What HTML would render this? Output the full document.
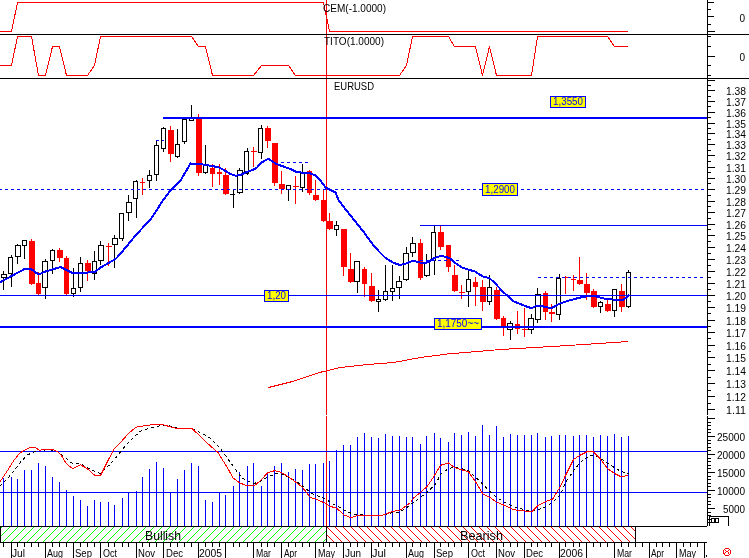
<!DOCTYPE html>
<html><head><meta charset="utf-8"><title>EURUSD</title>
<style>html,body{margin:0;padding:0;background:#fff;width:749px;height:558px;overflow:hidden}
text{font-family:"Liberation Sans",sans-serif} svg{will-change:transform}</style></head>
<body><svg width="749" height="558" viewBox="0 0 749 558" style="display:block;font-family:'Liberation Sans',sans-serif" shape-rendering="crispEdges"><defs><pattern id="hg" patternUnits="userSpaceOnUse" x="0" y="0" width="8" height="8"><rect x="0" y="0" width="1" height="1" fill="#00ff00"/><rect x="1" y="7" width="1" height="1" fill="#00ff00"/><rect x="2" y="6" width="1" height="1" fill="#00ff00"/><rect x="3" y="5" width="1" height="1" fill="#00ff00"/><rect x="4" y="4" width="1" height="1" fill="#00ff00"/><rect x="5" y="3" width="1" height="1" fill="#00ff00"/><rect x="6" y="2" width="1" height="1" fill="#00ff00"/><rect x="7" y="1" width="1" height="1" fill="#00ff00"/></pattern><pattern id="hr" patternUnits="userSpaceOnUse" x="0" y="0" width="8" height="8"><rect x="0" y="0" width="1" height="1" fill="#ff0000"/><rect x="1" y="1" width="1" height="1" fill="#ff0000"/><rect x="2" y="2" width="1" height="1" fill="#ff0000"/><rect x="3" y="3" width="1" height="1" fill="#ff0000"/><rect x="4" y="4" width="1" height="1" fill="#ff0000"/><rect x="5" y="5" width="1" height="1" fill="#ff0000"/><rect x="6" y="6" width="1" height="1" fill="#ff0000"/><rect x="7" y="7" width="1" height="1" fill="#ff0000"/></pattern></defs><rect x="326" y="0" width="1" height="415" fill="#ff0000"/>
<rect x="326" y="416" width="1" height="110" fill="#ff0000"/>
<rect x="0" y="34" width="749" height="1" fill="#000000"/>
<rect x="0" y="78" width="749" height="1" fill="#000000"/>
<rect x="707" y="0" width="1" height="415" fill="#000000"/>
<rect x="707" y="416" width="1" height="110" fill="#000000"/>
<rect x="708" y="2" width="6" height="1" fill="#000000"/>
<rect x="708" y="16" width="6" height="1" fill="#000000"/>
<rect x="708" y="31" width="7" height="1" fill="#000000"/>
<rect x="708" y="9" width="3" height="1" fill="#000000"/>
<rect x="708" y="24" width="3" height="1" fill="#000000"/>
<rect x="708" y="36" width="3" height="1" fill="#000000"/>
<rect x="708" y="46" width="3" height="1" fill="#000000"/>
<rect x="708" y="65" width="3" height="1" fill="#000000"/>
<rect x="708" y="75" width="3" height="1" fill="#000000"/>
<rect x="708" y="56" width="7" height="1" fill="#000000"/>
<text x="745" y="22" font-size="10" fill="#000000" text-anchor="end" >0</text>
<text x="745" y="61" font-size="10" fill="#000000" text-anchor="end" >0</text>
<rect x="708" y="80" width="7" height="1" fill="#000000"/>
<rect x="708" y="85" width="3" height="1" fill="#000000"/>
<rect x="708" y="90" width="7" height="1" fill="#000000"/>
<rect x="708" y="96" width="3" height="1" fill="#000000"/>
<rect x="708" y="101" width="7" height="1" fill="#000000"/>
<rect x="708" y="106" width="3" height="1" fill="#000000"/>
<rect x="708" y="112" width="7" height="1" fill="#000000"/>
<rect x="708" y="117" width="3" height="1" fill="#000000"/>
<rect x="708" y="123" width="7" height="1" fill="#000000"/>
<rect x="708" y="128" width="3" height="1" fill="#000000"/>
<rect x="708" y="133" width="7" height="1" fill="#000000"/>
<rect x="708" y="139" width="3" height="1" fill="#000000"/>
<rect x="708" y="144" width="7" height="1" fill="#000000"/>
<rect x="708" y="150" width="3" height="1" fill="#000000"/>
<rect x="708" y="155" width="7" height="1" fill="#000000"/>
<rect x="708" y="161" width="3" height="1" fill="#000000"/>
<rect x="708" y="167" width="7" height="1" fill="#000000"/>
<rect x="708" y="172" width="3" height="1" fill="#000000"/>
<rect x="708" y="178" width="7" height="1" fill="#000000"/>
<rect x="708" y="183" width="3" height="1" fill="#000000"/>
<rect x="708" y="189" width="7" height="1" fill="#000000"/>
<rect x="708" y="195" width="3" height="1" fill="#000000"/>
<rect x="708" y="201" width="7" height="1" fill="#000000"/>
<rect x="708" y="206" width="3" height="1" fill="#000000"/>
<rect x="708" y="212" width="7" height="1" fill="#000000"/>
<rect x="708" y="218" width="3" height="1" fill="#000000"/>
<rect x="708" y="224" width="7" height="1" fill="#000000"/>
<rect x="708" y="229" width="3" height="1" fill="#000000"/>
<rect x="708" y="235" width="7" height="1" fill="#000000"/>
<rect x="708" y="241" width="3" height="1" fill="#000000"/>
<rect x="708" y="247" width="7" height="1" fill="#000000"/>
<rect x="708" y="253" width="3" height="1" fill="#000000"/>
<rect x="708" y="259" width="7" height="1" fill="#000000"/>
<rect x="708" y="265" width="3" height="1" fill="#000000"/>
<rect x="708" y="271" width="7" height="1" fill="#000000"/>
<rect x="708" y="277" width="3" height="1" fill="#000000"/>
<rect x="708" y="283" width="7" height="1" fill="#000000"/>
<rect x="708" y="289" width="3" height="1" fill="#000000"/>
<rect x="708" y="295" width="7" height="1" fill="#000000"/>
<rect x="708" y="301" width="3" height="1" fill="#000000"/>
<rect x="708" y="307" width="7" height="1" fill="#000000"/>
<rect x="708" y="313" width="3" height="1" fill="#000000"/>
<rect x="708" y="320" width="7" height="1" fill="#000000"/>
<rect x="708" y="326" width="3" height="1" fill="#000000"/>
<rect x="708" y="332" width="7" height="1" fill="#000000"/>
<rect x="708" y="338" width="3" height="1" fill="#000000"/>
<rect x="708" y="345" width="7" height="1" fill="#000000"/>
<rect x="708" y="351" width="3" height="1" fill="#000000"/>
<rect x="708" y="357" width="7" height="1" fill="#000000"/>
<rect x="708" y="364" width="3" height="1" fill="#000000"/>
<rect x="708" y="370" width="7" height="1" fill="#000000"/>
<rect x="708" y="377" width="3" height="1" fill="#000000"/>
<rect x="708" y="383" width="7" height="1" fill="#000000"/>
<rect x="708" y="390" width="3" height="1" fill="#000000"/>
<rect x="708" y="396" width="7" height="1" fill="#000000"/>
<rect x="708" y="403" width="3" height="1" fill="#000000"/>
<rect x="708" y="409" width="7" height="1" fill="#000000"/>
<text x="746" y="95" font-size="10" fill="#000000" text-anchor="end" textLength="20" lengthAdjust="spacingAndGlyphs" >1.38</text>
<text x="746" y="106" font-size="10" fill="#000000" text-anchor="end" textLength="20" lengthAdjust="spacingAndGlyphs" >1.37</text>
<text x="746" y="117" font-size="10" fill="#000000" text-anchor="end" textLength="20" lengthAdjust="spacingAndGlyphs" >1.36</text>
<text x="746" y="128" font-size="10" fill="#000000" text-anchor="end" textLength="20" lengthAdjust="spacingAndGlyphs" >1.35</text>
<text x="746" y="138" font-size="10" fill="#000000" text-anchor="end" textLength="20" lengthAdjust="spacingAndGlyphs" >1.34</text>
<text x="746" y="149" font-size="10" fill="#000000" text-anchor="end" textLength="20" lengthAdjust="spacingAndGlyphs" >1.33</text>
<text x="746" y="160" font-size="10" fill="#000000" text-anchor="end" textLength="20" lengthAdjust="spacingAndGlyphs" >1.32</text>
<text x="746" y="172" font-size="10" fill="#000000" text-anchor="end" textLength="20" lengthAdjust="spacingAndGlyphs" >1.31</text>
<text x="746" y="183" font-size="10" fill="#000000" text-anchor="end" textLength="20" lengthAdjust="spacingAndGlyphs" >1.30</text>
<text x="746" y="194" font-size="10" fill="#000000" text-anchor="end" textLength="20" lengthAdjust="spacingAndGlyphs" >1.29</text>
<text x="746" y="206" font-size="10" fill="#000000" text-anchor="end" textLength="20" lengthAdjust="spacingAndGlyphs" >1.28</text>
<text x="746" y="217" font-size="10" fill="#000000" text-anchor="end" textLength="20" lengthAdjust="spacingAndGlyphs" >1.27</text>
<text x="746" y="229" font-size="10" fill="#000000" text-anchor="end" textLength="20" lengthAdjust="spacingAndGlyphs" >1.26</text>
<text x="746" y="240" font-size="10" fill="#000000" text-anchor="end" textLength="20" lengthAdjust="spacingAndGlyphs" >1.25</text>
<text x="746" y="252" font-size="10" fill="#000000" text-anchor="end" textLength="20" lengthAdjust="spacingAndGlyphs" >1.24</text>
<text x="746" y="264" font-size="10" fill="#000000" text-anchor="end" textLength="20" lengthAdjust="spacingAndGlyphs" >1.23</text>
<text x="746" y="276" font-size="10" fill="#000000" text-anchor="end" textLength="20" lengthAdjust="spacingAndGlyphs" >1.22</text>
<text x="746" y="288" font-size="10" fill="#000000" text-anchor="end" textLength="20" lengthAdjust="spacingAndGlyphs" >1.21</text>
<text x="746" y="300" font-size="10" fill="#000000" text-anchor="end" textLength="20" lengthAdjust="spacingAndGlyphs" >1.20</text>
<text x="746" y="312" font-size="10" fill="#000000" text-anchor="end" textLength="20" lengthAdjust="spacingAndGlyphs" >1.19</text>
<text x="746" y="325" font-size="10" fill="#000000" text-anchor="end" textLength="20" lengthAdjust="spacingAndGlyphs" >1.18</text>
<text x="746" y="337" font-size="10" fill="#000000" text-anchor="end" textLength="20" lengthAdjust="spacingAndGlyphs" >1.17</text>
<text x="746" y="350" font-size="10" fill="#000000" text-anchor="end" textLength="20" lengthAdjust="spacingAndGlyphs" >1.16</text>
<text x="746" y="362" font-size="10" fill="#000000" text-anchor="end" textLength="20" lengthAdjust="spacingAndGlyphs" >1.15</text>
<text x="746" y="375" font-size="10" fill="#000000" text-anchor="end" textLength="20" lengthAdjust="spacingAndGlyphs" >1.14</text>
<text x="746" y="388" font-size="10" fill="#000000" text-anchor="end" textLength="20" lengthAdjust="spacingAndGlyphs" >1.13</text>
<text x="746" y="401" font-size="10" fill="#000000" text-anchor="end" textLength="20" lengthAdjust="spacingAndGlyphs" >1.12</text>
<text x="746" y="414" font-size="10" fill="#000000" text-anchor="end" textLength="20" lengthAdjust="spacingAndGlyphs" >1.11</text>
<rect x="708" y="522" width="3" height="1" fill="#000000"/>
<rect x="708" y="519" width="3" height="1" fill="#000000"/>
<rect x="708" y="515" width="3" height="1" fill="#000000"/>
<rect x="708" y="512" width="3" height="1" fill="#000000"/>
<rect x="708" y="508" width="7" height="1" fill="#000000"/>
<rect x="708" y="504" width="3" height="1" fill="#000000"/>
<rect x="708" y="501" width="3" height="1" fill="#000000"/>
<rect x="708" y="497" width="3" height="1" fill="#000000"/>
<rect x="708" y="494" width="3" height="1" fill="#000000"/>
<rect x="708" y="490" width="7" height="1" fill="#000000"/>
<rect x="708" y="486" width="3" height="1" fill="#000000"/>
<rect x="708" y="483" width="3" height="1" fill="#000000"/>
<rect x="708" y="479" width="3" height="1" fill="#000000"/>
<rect x="708" y="476" width="3" height="1" fill="#000000"/>
<rect x="708" y="472" width="7" height="1" fill="#000000"/>
<rect x="708" y="468" width="3" height="1" fill="#000000"/>
<rect x="708" y="465" width="3" height="1" fill="#000000"/>
<rect x="708" y="461" width="3" height="1" fill="#000000"/>
<rect x="708" y="458" width="3" height="1" fill="#000000"/>
<rect x="708" y="454" width="7" height="1" fill="#000000"/>
<rect x="708" y="450" width="3" height="1" fill="#000000"/>
<rect x="708" y="447" width="3" height="1" fill="#000000"/>
<rect x="708" y="443" width="3" height="1" fill="#000000"/>
<rect x="708" y="440" width="3" height="1" fill="#000000"/>
<rect x="708" y="436" width="7" height="1" fill="#000000"/>
<rect x="708" y="432" width="3" height="1" fill="#000000"/>
<rect x="708" y="429" width="3" height="1" fill="#000000"/>
<rect x="708" y="425" width="3" height="1" fill="#000000"/>
<rect x="708" y="422" width="3" height="1" fill="#000000"/>
<rect x="708" y="418" width="7" height="1" fill="#000000"/>
<text x="745" y="441" font-size="10" fill="#000000" text-anchor="end" textLength="28" lengthAdjust="spacingAndGlyphs" >25000</text>
<text x="745" y="459" font-size="10" fill="#000000" text-anchor="end" textLength="28" lengthAdjust="spacingAndGlyphs" >20000</text>
<text x="745" y="477" font-size="10" fill="#000000" text-anchor="end" textLength="28" lengthAdjust="spacingAndGlyphs" >15000</text>
<text x="745" y="495" font-size="10" fill="#000000" text-anchor="end" textLength="28" lengthAdjust="spacingAndGlyphs" >10000</text>
<text x="745" y="513" font-size="10" fill="#000000" text-anchor="end" textLength="22" lengthAdjust="spacingAndGlyphs" >5000</text>
<polyline points="-0.5,31.5 11.5,31.5 17.5,2.5 323.5,2.5 329.5,31.5 627.5,31.5" fill="none" stroke="#ff0000" stroke-width="1" stroke-linejoin="round" />
<text x="323" y="12" font-size="10" fill="#000000" text-anchor="start" textLength="63" lengthAdjust="spacingAndGlyphs" >CEM(-1.0000)</text>
<polyline points="-0.5,65.5 3.5,65.5 11.5,65.5 17.5,36.5 31.5,36.5 38.5,75.5 45.5,75.5 52.5,46.5 59.5,46.5 66.5,75.5 87.5,75.5 94.5,65.5 100.5,36.5 191.5,36.5 198.5,46.5 205.5,46.5 212.5,75.5 253.5,75.5 261.5,65.5 288.5,65.5 295.5,75.5 399.5,75.5 406.5,65.5 412.5,36.5 448.5,36.5 454.5,46.5 475.5,46.5 482.5,75.5 489.5,46.5 496.5,75.5 531.5,75.5 537.5,36.5 607.5,36.5 614.5,46.5 627.5,46.5" fill="none" stroke="#ff0000" stroke-width="1" stroke-linejoin="round" />
<text x="324" y="45" font-size="10" fill="#000000" text-anchor="start" textLength="60" lengthAdjust="spacingAndGlyphs" >TITO(1.0000)</text>
<text x="334" y="90" font-size="10" fill="#000000" text-anchor="start" textLength="40" lengthAdjust="spacingAndGlyphs" >EURUSD</text>
<rect x="3" y="271" width="1" height="19" fill="#000000"/>
<rect x="1.5" y="274.5" width="5" height="3" fill="#fff" stroke="#000" stroke-width="1"/>
<rect x="11" y="255" width="1" height="32" fill="#000000"/>
<rect x="8.5" y="257.5" width="4" height="16" fill="#fff" stroke="#000" stroke-width="1"/>
<rect x="17" y="244" width="1" height="20" fill="#000000"/>
<rect x="15.5" y="245.5" width="5" height="11" fill="#fff" stroke="#000" stroke-width="1"/>
<rect x="24" y="240" width="1" height="19" fill="#000000"/>
<rect x="22.5" y="240.5" width="4" height="5" fill="#fff" stroke="#000" stroke-width="1"/>
<rect x="31" y="239" width="1" height="46" fill="#ff0000"/>
<rect x="29" y="241" width="6" height="43" fill="#ff0000"/>
<rect x="38" y="272" width="1" height="23" fill="#ff0000"/>
<rect x="36" y="283" width="5" height="11" fill="#ff0000"/>
<rect x="45" y="259" width="1" height="40" fill="#000000"/>
<rect x="42.5" y="261.5" width="5" height="26" fill="#fff" stroke="#000" stroke-width="1"/>
<rect x="52" y="249" width="1" height="25" fill="#000000"/>
<rect x="50.5" y="250.5" width="4" height="10" fill="#fff" stroke="#000" stroke-width="1"/>
<rect x="59" y="248" width="1" height="14" fill="#ff0000"/>
<rect x="57" y="250" width="6" height="8" fill="#ff0000"/>
<rect x="66" y="256" width="1" height="39" fill="#ff0000"/>
<rect x="64" y="258" width="5" height="36" fill="#ff0000"/>
<rect x="73" y="268" width="1" height="29" fill="#000000"/>
<rect x="71.5" y="288.5" width="4" height="5" fill="#fff" stroke="#000" stroke-width="1"/>
<rect x="80" y="257" width="1" height="35" fill="#000000"/>
<rect x="78.5" y="263.5" width="4" height="24" fill="#fff" stroke="#000" stroke-width="1"/>
<rect x="87" y="260" width="1" height="21" fill="#ff0000"/>
<rect x="85" y="263" width="6" height="8" fill="#ff0000"/>
<rect x="94" y="251" width="1" height="29" fill="#000000"/>
<rect x="92.5" y="261.5" width="4" height="12" fill="#fff" stroke="#000" stroke-width="1"/>
<rect x="100" y="241" width="1" height="24" fill="#000000"/>
<rect x="98.5" y="245.5" width="5" height="15" fill="#fff" stroke="#000" stroke-width="1"/>
<rect x="108" y="243" width="1" height="23" fill="#ff0000"/>
<rect x="106" y="246" width="6" height="1" fill="#ff0000"/>
<rect x="114" y="235" width="1" height="33" fill="#000000"/>
<rect x="112.5" y="238.5" width="5" height="6" fill="#fff" stroke="#000" stroke-width="1"/>
<rect x="122" y="213" width="1" height="28" fill="#000000"/>
<rect x="119.5" y="213.5" width="4" height="25" fill="#fff" stroke="#000" stroke-width="1"/>
<rect x="128" y="195" width="1" height="26" fill="#000000"/>
<rect x="126.5" y="202.5" width="5" height="10" fill="#fff" stroke="#000" stroke-width="1"/>
<rect x="136" y="180" width="1" height="38" fill="#000000"/>
<rect x="133.5" y="181.5" width="4" height="17" fill="#fff" stroke="#000" stroke-width="1"/>
<rect x="142" y="178" width="1" height="17" fill="#ff0000"/>
<rect x="140" y="182" width="5" height="1" fill="#ff0000"/>
<rect x="149" y="170" width="1" height="18" fill="#000000"/>
<rect x="147.5" y="175.5" width="4" height="5" fill="#fff" stroke="#000" stroke-width="1"/>
<rect x="156" y="140" width="1" height="41" fill="#000000"/>
<rect x="154.5" y="145.5" width="4" height="29" fill="#fff" stroke="#000" stroke-width="1"/>
<rect x="163" y="127" width="1" height="25" fill="#000000"/>
<rect x="161.5" y="128.5" width="4" height="20" fill="#fff" stroke="#000" stroke-width="1"/>
<rect x="170" y="126" width="1" height="36" fill="#ff0000"/>
<rect x="168" y="130" width="6" height="24" fill="#ff0000"/>
<rect x="177" y="129" width="1" height="29" fill="#000000"/>
<rect x="175.5" y="144.5" width="4" height="12" fill="#fff" stroke="#000" stroke-width="1"/>
<rect x="184" y="119" width="1" height="25" fill="#000000"/>
<rect x="182.5" y="119.5" width="4" height="22" fill="#fff" stroke="#000" stroke-width="1"/>
<rect x="191" y="105" width="1" height="16" fill="#000000"/>
<rect x="189.5" y="118.5" width="4" height="2" fill="#fff" stroke="#000" stroke-width="1"/>
<rect x="198" y="114" width="1" height="62" fill="#ff0000"/>
<rect x="196" y="118" width="6" height="55" fill="#ff0000"/>
<rect x="205" y="145" width="1" height="29" fill="#000000"/>
<rect x="203.5" y="165.5" width="4" height="7" fill="#fff" stroke="#000" stroke-width="1"/>
<rect x="212" y="164" width="1" height="23" fill="#ff0000"/>
<rect x="210" y="168" width="5" height="6" fill="#ff0000"/>
<rect x="219" y="164" width="1" height="21" fill="#ff0000"/>
<rect x="217" y="172" width="5" height="2" fill="#ff0000"/>
<rect x="225" y="168" width="1" height="27" fill="#ff0000"/>
<rect x="223" y="175" width="6" height="19" fill="#ff0000"/>
<rect x="233" y="190" width="1" height="18" fill="#000000"/>
<rect x="230" y="194" width="5" height="1" fill="#000000"/>
<rect x="239" y="168" width="1" height="26" fill="#000000"/>
<rect x="237.5" y="170.5" width="5" height="22" fill="#fff" stroke="#000" stroke-width="1"/>
<rect x="247" y="148" width="1" height="27" fill="#000000"/>
<rect x="244.5" y="151.5" width="4" height="22" fill="#fff" stroke="#000" stroke-width="1"/>
<rect x="253" y="147" width="1" height="20" fill="#ff0000"/>
<rect x="251" y="151" width="6" height="1" fill="#ff0000"/>
<rect x="261" y="125" width="1" height="34" fill="#000000"/>
<rect x="258.5" y="128.5" width="4" height="24" fill="#fff" stroke="#000" stroke-width="1"/>
<rect x="267" y="126" width="1" height="22" fill="#ff0000"/>
<rect x="265" y="128" width="6" height="13" fill="#ff0000"/>
<rect x="274" y="143" width="1" height="43" fill="#ff0000"/>
<rect x="272" y="143" width="6" height="40" fill="#ff0000"/>
<rect x="281" y="171" width="1" height="23" fill="#ff0000"/>
<rect x="279" y="184" width="6" height="5" fill="#ff0000"/>
<rect x="288" y="185" width="1" height="16" fill="#000000"/>
<rect x="286.5" y="185.5" width="4" height="4" fill="#fff" stroke="#000" stroke-width="1"/>
<rect x="295" y="176" width="1" height="28" fill="#ff0000"/>
<rect x="293" y="186" width="6" height="1" fill="#ff0000"/>
<rect x="302" y="164" width="1" height="28" fill="#000000"/>
<rect x="300.5" y="173.5" width="4" height="14" fill="#fff" stroke="#000" stroke-width="1"/>
<rect x="309" y="170" width="1" height="25" fill="#ff0000"/>
<rect x="307" y="171" width="5" height="22" fill="#ff0000"/>
<rect x="315" y="180" width="1" height="21" fill="#ff0000"/>
<rect x="313" y="195" width="6" height="5" fill="#ff0000"/>
<rect x="323" y="189" width="1" height="33" fill="#ff0000"/>
<rect x="321" y="200" width="6" height="21" fill="#ff0000"/>
<rect x="329" y="213" width="1" height="17" fill="#ff0000"/>
<rect x="327" y="221" width="6" height="8" fill="#ff0000"/>
<rect x="336" y="221" width="1" height="15" fill="#000000"/>
<rect x="334.5" y="225.5" width="4" height="4" fill="#fff" stroke="#000" stroke-width="1"/>
<rect x="343" y="229" width="1" height="47" fill="#ff0000"/>
<rect x="341" y="229" width="6" height="38" fill="#ff0000"/>
<rect x="350" y="253" width="1" height="30" fill="#ff0000"/>
<rect x="348" y="269" width="6" height="13" fill="#ff0000"/>
<rect x="357" y="261" width="1" height="32" fill="#000000"/>
<rect x="354.5" y="261.5" width="5" height="20" fill="#fff" stroke="#000" stroke-width="1"/>
<rect x="364" y="267" width="1" height="30" fill="#ff0000"/>
<rect x="362" y="269" width="5" height="15" fill="#ff0000"/>
<rect x="371" y="273" width="1" height="29" fill="#ff0000"/>
<rect x="369" y="286" width="6" height="15" fill="#ff0000"/>
<rect x="378" y="290" width="1" height="22" fill="#000000"/>
<rect x="376.5" y="299.5" width="4" height="2" fill="#fff" stroke="#000" stroke-width="1"/>
<rect x="385" y="265" width="1" height="36" fill="#000000"/>
<rect x="383.5" y="291.5" width="4" height="8" fill="#fff" stroke="#000" stroke-width="1"/>
<rect x="392" y="265" width="1" height="36" fill="#000000"/>
<rect x="390.5" y="288.5" width="4" height="3" fill="#fff" stroke="#000" stroke-width="1"/>
<rect x="399" y="276" width="1" height="23" fill="#000000"/>
<rect x="396.5" y="281.5" width="5" height="6" fill="#fff" stroke="#000" stroke-width="1"/>
<rect x="406" y="247" width="1" height="34" fill="#000000"/>
<rect x="403.5" y="253.5" width="5" height="26" fill="#fff" stroke="#000" stroke-width="1"/>
<rect x="412" y="237" width="1" height="20" fill="#000000"/>
<rect x="410.5" y="243.5" width="5" height="9" fill="#fff" stroke="#000" stroke-width="1"/>
<rect x="420" y="239" width="1" height="41" fill="#ff0000"/>
<rect x="418" y="243" width="5" height="35" fill="#ff0000"/>
<rect x="426" y="254" width="1" height="23" fill="#000000"/>
<rect x="424.5" y="262.5" width="5" height="13" fill="#fff" stroke="#000" stroke-width="1"/>
<rect x="434" y="226" width="1" height="49" fill="#000000"/>
<rect x="431.5" y="232.5" width="4" height="28" fill="#fff" stroke="#000" stroke-width="1"/>
<rect x="440" y="226" width="1" height="24" fill="#ff0000"/>
<rect x="438" y="232" width="6" height="15" fill="#ff0000"/>
<rect x="448" y="245" width="1" height="27" fill="#ff0000"/>
<rect x="446" y="245" width="5" height="22" fill="#ff0000"/>
<rect x="454" y="265" width="1" height="27" fill="#ff0000"/>
<rect x="452" y="275" width="6" height="16" fill="#ff0000"/>
<rect x="461" y="285" width="1" height="14" fill="#ff0000"/>
<rect x="459" y="292" width="6" height="1" fill="#ff0000"/>
<rect x="468" y="269" width="1" height="38" fill="#000000"/>
<rect x="466.5" y="279.5" width="4" height="12" fill="#fff" stroke="#000" stroke-width="1"/>
<rect x="475" y="277" width="1" height="29" fill="#ff0000"/>
<rect x="473" y="282" width="5" height="5" fill="#ff0000"/>
<rect x="482" y="280" width="1" height="31" fill="#ff0000"/>
<rect x="480" y="287" width="6" height="15" fill="#ff0000"/>
<rect x="489" y="275" width="1" height="30" fill="#000000"/>
<rect x="487.5" y="287.5" width="4" height="14" fill="#fff" stroke="#000" stroke-width="1"/>
<rect x="496" y="287" width="1" height="33" fill="#ff0000"/>
<rect x="494" y="290" width="6" height="29" fill="#ff0000"/>
<rect x="503" y="316" width="1" height="20" fill="#ff0000"/>
<rect x="501" y="318" width="5" height="8" fill="#ff0000"/>
<rect x="510" y="321" width="1" height="19" fill="#000000"/>
<rect x="507.5" y="323.5" width="5" height="6" fill="#fff" stroke="#000" stroke-width="1"/>
<rect x="517" y="311" width="1" height="23" fill="#ff0000"/>
<rect x="515" y="324" width="5" height="5" fill="#ff0000"/>
<rect x="524" y="308" width="1" height="29" fill="#ff0000"/>
<rect x="522" y="329" width="6" height="1" fill="#ff0000"/>
<rect x="531" y="314" width="1" height="20" fill="#000000"/>
<rect x="528.5" y="318.5" width="5" height="11" fill="#fff" stroke="#000" stroke-width="1"/>
<rect x="537" y="288" width="1" height="35" fill="#000000"/>
<rect x="535.5" y="294.5" width="5" height="25" fill="#fff" stroke="#000" stroke-width="1"/>
<rect x="545" y="291" width="1" height="29" fill="#ff0000"/>
<rect x="543" y="293" width="5" height="19" fill="#ff0000"/>
<rect x="551" y="304" width="1" height="18" fill="#ff0000"/>
<rect x="549" y="312" width="6" height="2" fill="#ff0000"/>
<rect x="559" y="274" width="1" height="46" fill="#000000"/>
<rect x="556.5" y="278.5" width="4" height="36" fill="#fff" stroke="#000" stroke-width="1"/>
<rect x="565" y="276" width="1" height="18" fill="#ff0000"/>
<rect x="563" y="277" width="6" height="1" fill="#ff0000"/>
<rect x="573" y="275" width="1" height="16" fill="#ff0000"/>
<rect x="571" y="279" width="5" height="1" fill="#ff0000"/>
<rect x="579" y="257" width="1" height="28" fill="#ff0000"/>
<rect x="577" y="280" width="6" height="4" fill="#ff0000"/>
<rect x="586" y="273" width="1" height="27" fill="#ff0000"/>
<rect x="584" y="284" width="6" height="9" fill="#ff0000"/>
<rect x="593" y="289" width="1" height="19" fill="#ff0000"/>
<rect x="591" y="291" width="6" height="16" fill="#ff0000"/>
<rect x="600" y="301" width="1" height="12" fill="#000000"/>
<rect x="598.5" y="302.5" width="4" height="4" fill="#fff" stroke="#000" stroke-width="1"/>
<rect x="607" y="300" width="1" height="12" fill="#ff0000"/>
<rect x="605" y="304" width="6" height="7" fill="#ff0000"/>
<rect x="614" y="289" width="1" height="28" fill="#000000"/>
<rect x="612.5" y="289.5" width="4" height="21" fill="#fff" stroke="#000" stroke-width="1"/>
<rect x="621" y="284" width="1" height="28" fill="#ff0000"/>
<rect x="619" y="291" width="6" height="16" fill="#ff0000"/>
<rect x="628" y="270" width="1" height="38" fill="#000000"/>
<rect x="626.5" y="272.5" width="4" height="34" fill="#fff" stroke="#000" stroke-width="1"/>
<rect x="163" y="117" width="544" height="2" fill="#0000ff"/>
<rect x="0" y="189" width="2" height="1" fill="#0000ff"/>
<rect x="5" y="189" width="3" height="1" fill="#0000ff"/>
<rect x="11" y="189" width="3" height="1" fill="#0000ff"/>
<rect x="17" y="189" width="3" height="1" fill="#0000ff"/>
<rect x="23" y="189" width="3" height="1" fill="#0000ff"/>
<rect x="29" y="189" width="3" height="1" fill="#0000ff"/>
<rect x="35" y="189" width="3" height="1" fill="#0000ff"/>
<rect x="41" y="189" width="3" height="1" fill="#0000ff"/>
<rect x="47" y="189" width="3" height="1" fill="#0000ff"/>
<rect x="53" y="189" width="3" height="1" fill="#0000ff"/>
<rect x="59" y="189" width="3" height="1" fill="#0000ff"/>
<rect x="65" y="189" width="3" height="1" fill="#0000ff"/>
<rect x="71" y="189" width="3" height="1" fill="#0000ff"/>
<rect x="77" y="189" width="3" height="1" fill="#0000ff"/>
<rect x="83" y="189" width="3" height="1" fill="#0000ff"/>
<rect x="89" y="189" width="3" height="1" fill="#0000ff"/>
<rect x="95" y="189" width="3" height="1" fill="#0000ff"/>
<rect x="101" y="189" width="3" height="1" fill="#0000ff"/>
<rect x="107" y="189" width="3" height="1" fill="#0000ff"/>
<rect x="113" y="189" width="3" height="1" fill="#0000ff"/>
<rect x="119" y="189" width="3" height="1" fill="#0000ff"/>
<rect x="125" y="189" width="3" height="1" fill="#0000ff"/>
<rect x="131" y="189" width="3" height="1" fill="#0000ff"/>
<rect x="137" y="189" width="3" height="1" fill="#0000ff"/>
<rect x="143" y="189" width="3" height="1" fill="#0000ff"/>
<rect x="149" y="189" width="3" height="1" fill="#0000ff"/>
<rect x="155" y="189" width="3" height="1" fill="#0000ff"/>
<rect x="161" y="189" width="3" height="1" fill="#0000ff"/>
<rect x="167" y="189" width="3" height="1" fill="#0000ff"/>
<rect x="173" y="189" width="3" height="1" fill="#0000ff"/>
<rect x="179" y="189" width="3" height="1" fill="#0000ff"/>
<rect x="185" y="189" width="3" height="1" fill="#0000ff"/>
<rect x="191" y="189" width="3" height="1" fill="#0000ff"/>
<rect x="197" y="189" width="3" height="1" fill="#0000ff"/>
<rect x="203" y="189" width="3" height="1" fill="#0000ff"/>
<rect x="209" y="189" width="3" height="1" fill="#0000ff"/>
<rect x="215" y="189" width="3" height="1" fill="#0000ff"/>
<rect x="221" y="189" width="3" height="1" fill="#0000ff"/>
<rect x="227" y="189" width="3" height="1" fill="#0000ff"/>
<rect x="233" y="189" width="3" height="1" fill="#0000ff"/>
<rect x="239" y="189" width="3" height="1" fill="#0000ff"/>
<rect x="245" y="189" width="3" height="1" fill="#0000ff"/>
<rect x="251" y="189" width="3" height="1" fill="#0000ff"/>
<rect x="257" y="189" width="3" height="1" fill="#0000ff"/>
<rect x="263" y="189" width="3" height="1" fill="#0000ff"/>
<rect x="269" y="189" width="3" height="1" fill="#0000ff"/>
<rect x="275" y="189" width="3" height="1" fill="#0000ff"/>
<rect x="281" y="189" width="3" height="1" fill="#0000ff"/>
<rect x="287" y="189" width="3" height="1" fill="#0000ff"/>
<rect x="293" y="189" width="3" height="1" fill="#0000ff"/>
<rect x="299" y="189" width="3" height="1" fill="#0000ff"/>
<rect x="305" y="189" width="3" height="1" fill="#0000ff"/>
<rect x="311" y="189" width="3" height="1" fill="#0000ff"/>
<rect x="317" y="189" width="3" height="1" fill="#0000ff"/>
<rect x="323" y="189" width="3" height="1" fill="#0000ff"/>
<rect x="329" y="189" width="3" height="1" fill="#0000ff"/>
<rect x="335" y="189" width="3" height="1" fill="#0000ff"/>
<rect x="341" y="189" width="3" height="1" fill="#0000ff"/>
<rect x="347" y="189" width="3" height="1" fill="#0000ff"/>
<rect x="353" y="189" width="3" height="1" fill="#0000ff"/>
<rect x="359" y="189" width="3" height="1" fill="#0000ff"/>
<rect x="365" y="189" width="3" height="1" fill="#0000ff"/>
<rect x="371" y="189" width="3" height="1" fill="#0000ff"/>
<rect x="377" y="189" width="3" height="1" fill="#0000ff"/>
<rect x="383" y="189" width="3" height="1" fill="#0000ff"/>
<rect x="389" y="189" width="3" height="1" fill="#0000ff"/>
<rect x="395" y="189" width="3" height="1" fill="#0000ff"/>
<rect x="401" y="189" width="3" height="1" fill="#0000ff"/>
<rect x="407" y="189" width="3" height="1" fill="#0000ff"/>
<rect x="413" y="189" width="3" height="1" fill="#0000ff"/>
<rect x="419" y="189" width="3" height="1" fill="#0000ff"/>
<rect x="425" y="189" width="3" height="1" fill="#0000ff"/>
<rect x="431" y="189" width="3" height="1" fill="#0000ff"/>
<rect x="437" y="189" width="3" height="1" fill="#0000ff"/>
<rect x="443" y="189" width="3" height="1" fill="#0000ff"/>
<rect x="449" y="189" width="3" height="1" fill="#0000ff"/>
<rect x="455" y="189" width="3" height="1" fill="#0000ff"/>
<rect x="461" y="189" width="3" height="1" fill="#0000ff"/>
<rect x="467" y="189" width="3" height="1" fill="#0000ff"/>
<rect x="473" y="189" width="3" height="1" fill="#0000ff"/>
<rect x="479" y="189" width="3" height="1" fill="#0000ff"/>
<rect x="485" y="189" width="3" height="1" fill="#0000ff"/>
<rect x="491" y="189" width="3" height="1" fill="#0000ff"/>
<rect x="497" y="189" width="3" height="1" fill="#0000ff"/>
<rect x="503" y="189" width="3" height="1" fill="#0000ff"/>
<rect x="509" y="189" width="3" height="1" fill="#0000ff"/>
<rect x="515" y="189" width="3" height="1" fill="#0000ff"/>
<rect x="521" y="189" width="3" height="1" fill="#0000ff"/>
<rect x="527" y="189" width="3" height="1" fill="#0000ff"/>
<rect x="533" y="189" width="3" height="1" fill="#0000ff"/>
<rect x="539" y="189" width="3" height="1" fill="#0000ff"/>
<rect x="545" y="189" width="3" height="1" fill="#0000ff"/>
<rect x="551" y="189" width="3" height="1" fill="#0000ff"/>
<rect x="557" y="189" width="3" height="1" fill="#0000ff"/>
<rect x="563" y="189" width="3" height="1" fill="#0000ff"/>
<rect x="569" y="189" width="3" height="1" fill="#0000ff"/>
<rect x="575" y="189" width="3" height="1" fill="#0000ff"/>
<rect x="581" y="189" width="3" height="1" fill="#0000ff"/>
<rect x="587" y="189" width="3" height="1" fill="#0000ff"/>
<rect x="593" y="189" width="3" height="1" fill="#0000ff"/>
<rect x="599" y="189" width="3" height="1" fill="#0000ff"/>
<rect x="605" y="189" width="3" height="1" fill="#0000ff"/>
<rect x="611" y="189" width="3" height="1" fill="#0000ff"/>
<rect x="617" y="189" width="3" height="1" fill="#0000ff"/>
<rect x="623" y="189" width="3" height="1" fill="#0000ff"/>
<rect x="629" y="189" width="3" height="1" fill="#0000ff"/>
<rect x="635" y="189" width="3" height="1" fill="#0000ff"/>
<rect x="641" y="189" width="3" height="1" fill="#0000ff"/>
<rect x="647" y="189" width="3" height="1" fill="#0000ff"/>
<rect x="653" y="189" width="3" height="1" fill="#0000ff"/>
<rect x="659" y="189" width="3" height="1" fill="#0000ff"/>
<rect x="665" y="189" width="3" height="1" fill="#0000ff"/>
<rect x="671" y="189" width="3" height="1" fill="#0000ff"/>
<rect x="677" y="189" width="3" height="1" fill="#0000ff"/>
<rect x="683" y="189" width="3" height="1" fill="#0000ff"/>
<rect x="689" y="189" width="3" height="1" fill="#0000ff"/>
<rect x="695" y="189" width="3" height="1" fill="#0000ff"/>
<rect x="701" y="189" width="3" height="1" fill="#0000ff"/>
<rect x="420" y="225" width="287" height="1" fill="#0000ff"/>
<rect x="0" y="295" width="707" height="1" fill="#0000ff"/>
<rect x="538" y="277" width="3" height="1" fill="#0000ff"/>
<rect x="544" y="277" width="3" height="1" fill="#0000ff"/>
<rect x="550" y="277" width="3" height="1" fill="#0000ff"/>
<rect x="556" y="277" width="3" height="1" fill="#0000ff"/>
<rect x="562" y="277" width="3" height="1" fill="#0000ff"/>
<rect x="568" y="277" width="3" height="1" fill="#0000ff"/>
<rect x="574" y="277" width="3" height="1" fill="#0000ff"/>
<rect x="580" y="277" width="3" height="1" fill="#0000ff"/>
<rect x="586" y="277" width="3" height="1" fill="#0000ff"/>
<rect x="592" y="277" width="3" height="1" fill="#0000ff"/>
<rect x="598" y="277" width="3" height="1" fill="#0000ff"/>
<rect x="604" y="277" width="3" height="1" fill="#0000ff"/>
<rect x="610" y="277" width="3" height="1" fill="#0000ff"/>
<rect x="616" y="277" width="3" height="1" fill="#0000ff"/>
<rect x="622" y="277" width="3" height="1" fill="#0000ff"/>
<rect x="628" y="277" width="3" height="1" fill="#0000ff"/>
<rect x="634" y="277" width="3" height="1" fill="#0000ff"/>
<rect x="640" y="277" width="3" height="1" fill="#0000ff"/>
<rect x="646" y="277" width="3" height="1" fill="#0000ff"/>
<rect x="652" y="277" width="3" height="1" fill="#0000ff"/>
<rect x="658" y="277" width="3" height="1" fill="#0000ff"/>
<rect x="664" y="277" width="3" height="1" fill="#0000ff"/>
<rect x="670" y="277" width="3" height="1" fill="#0000ff"/>
<rect x="676" y="277" width="3" height="1" fill="#0000ff"/>
<rect x="682" y="277" width="3" height="1" fill="#0000ff"/>
<rect x="688" y="277" width="3" height="1" fill="#0000ff"/>
<rect x="694" y="277" width="3" height="1" fill="#0000ff"/>
<rect x="700" y="277" width="3" height="1" fill="#0000ff"/>
<rect x="0" y="326" width="707" height="2" fill="#0000ff"/>
<rect x="156" y="140" width="3" height="1" fill="#0000ff"/>
<rect x="162" y="140" width="2" height="1" fill="#0000ff"/>
<rect x="281" y="162" width="3" height="1" fill="#0000ff"/>
<rect x="287" y="162" width="3" height="1" fill="#0000ff"/>
<rect x="293" y="162" width="3" height="1" fill="#0000ff"/>
<rect x="299" y="162" width="3" height="1" fill="#0000ff"/>
<rect x="305" y="162" width="3" height="1" fill="#0000ff"/>
<rect x="420" y="260" width="3" height="1" fill="#0000ff"/>
<rect x="426" y="260" width="3" height="1" fill="#0000ff"/>
<rect x="432" y="260" width="3" height="1" fill="#0000ff"/>
<rect x="438" y="260" width="3" height="1" fill="#0000ff"/>
<rect x="444" y="260" width="3" height="1" fill="#0000ff"/>
<rect x="450" y="260" width="3" height="1" fill="#0000ff"/>
<rect x="456" y="260" width="3" height="1" fill="#0000ff"/>
<polyline points="268.5,387.5 292.5,381.5 319.5,372.5 340.5,367.5 367.5,364.5 393.5,362.5 420.5,357.5 447.5,354.0 500.5,349.5 560.5,346.0 628.5,341.5" fill="none" stroke="#ff0000" stroke-width="1" stroke-linejoin="round" />
<polyline points="-0.5,282.5 25.5,268.5 30.5,268.5 38.5,274.5 45.5,271.5 60.5,267.0 72.5,273.0 85.5,272.8 95.5,271.5 100.5,267.5 115.5,259.1 120.5,253.7 135.5,235.5 150.5,219.3 155.5,212.0 162.5,201.0 170.5,190.3 180.5,180.6 190.5,163.5 200.5,164.0 207.5,165.3 218.0,167.1 223.8,170.0 229.5,173.5 235.5,175.8 241.3,174.6 247.1,171.7 252.9,170.0 257.5,167.1 260.5,163.0 268.5,158.8 275.5,163.5 280.5,165.5 290.5,169.0 295.5,171.5 300.5,172.5 310.5,173.5 315.5,175.5 320.5,180.5 325.5,187.5 335.5,192.5 338.8,200.5 346.3,210.2 354.9,220.9 363.5,231.7 372.1,243.5 378.5,251.0 385.0,257.5 393.5,262.9 400.1,265.0 406.5,263.3 413.0,260.7 419.5,262.5 425.5,262.8 428.9,261.8 432.9,258.8 436.9,257.2 440.9,256.0 445.5,256.8 450.2,258.5 455.5,263.2 462.2,267.5 471.0,270.4 474.5,271.2 482.5,276.3 489.5,278.1 494.5,282.7 502.2,291.0 513.8,301.5 525.5,306.1 531.3,308.2 537.1,305.5 542.9,306.4 551.5,308.2 560.5,303.2 570.5,300.1 580.5,297.5 591.9,295.5 598.4,297.0 604.8,298.7 612.3,299.5 617.7,299.7 622.0,300.5 626.3,297.5 629.0,295.0" fill="none" stroke="#0000ff" stroke-width="2" stroke-linejoin="round" />
<rect x="550" y="96" width="36" height="12" fill="#0000ff"/>
<rect x="551" y="97" width="34" height="10" fill="#ffff00"/>
<text x="553" y="105" font-size="10" fill="#0000ff" text-anchor="start" textLength="30" lengthAdjust="spacingAndGlyphs" >1,3550</text>
<rect x="482" y="183" width="36" height="13" fill="#0000ff"/>
<rect x="483" y="184" width="34" height="11" fill="#ffff00"/>
<text x="485" y="193" font-size="10" fill="#0000ff" text-anchor="start" textLength="30" lengthAdjust="spacingAndGlyphs" >1,2900</text>
<rect x="264" y="290" width="25" height="12" fill="#0000ff"/>
<rect x="265" y="291" width="23" height="10" fill="#ffff00"/>
<text x="267" y="299" font-size="10" fill="#0000ff" text-anchor="start" textLength="19" lengthAdjust="spacingAndGlyphs" >1,20</text>
<rect x="434" y="318" width="48" height="12" fill="#0000ff"/>
<rect x="435" y="319" width="46" height="10" fill="#ffff00"/>
<text x="437" y="327" font-size="10" fill="#0000ff" text-anchor="start" textLength="42" lengthAdjust="spacingAndGlyphs" >1,1750~~</text>
<rect x="0" y="451" width="707" height="1" fill="#0000ff"/>
<rect x="0" y="492" width="707" height="1" fill="#0000ff"/>
<rect x="3" y="478" width="1" height="48" fill="#0000ff"/>
<rect x="11" y="477" width="1" height="49" fill="#0000ff"/>
<rect x="17" y="479" width="1" height="47" fill="#0000ff"/>
<rect x="24" y="470" width="1" height="56" fill="#0000ff"/>
<rect x="31" y="470" width="1" height="56" fill="#0000ff"/>
<rect x="38" y="463" width="1" height="63" fill="#0000ff"/>
<rect x="45" y="466" width="1" height="60" fill="#0000ff"/>
<rect x="52" y="477" width="1" height="49" fill="#0000ff"/>
<rect x="59" y="482" width="1" height="44" fill="#0000ff"/>
<rect x="66" y="490" width="1" height="36" fill="#0000ff"/>
<rect x="73" y="496" width="1" height="30" fill="#0000ff"/>
<rect x="80" y="500" width="1" height="26" fill="#0000ff"/>
<rect x="87" y="506" width="1" height="20" fill="#0000ff"/>
<rect x="94" y="500" width="1" height="26" fill="#0000ff"/>
<rect x="100" y="502" width="1" height="24" fill="#0000ff"/>
<rect x="108" y="502" width="1" height="24" fill="#0000ff"/>
<rect x="114" y="505" width="1" height="21" fill="#0000ff"/>
<rect x="122" y="498" width="1" height="28" fill="#0000ff"/>
<rect x="128" y="492" width="1" height="34" fill="#0000ff"/>
<rect x="136" y="491" width="1" height="35" fill="#0000ff"/>
<rect x="142" y="477" width="1" height="49" fill="#0000ff"/>
<rect x="149" y="469" width="1" height="57" fill="#0000ff"/>
<rect x="156" y="462" width="1" height="64" fill="#0000ff"/>
<rect x="163" y="468" width="1" height="58" fill="#0000ff"/>
<rect x="170" y="492" width="1" height="34" fill="#0000ff"/>
<rect x="177" y="479" width="1" height="47" fill="#0000ff"/>
<rect x="184" y="470" width="1" height="56" fill="#0000ff"/>
<rect x="191" y="463" width="1" height="63" fill="#0000ff"/>
<rect x="198" y="466" width="1" height="60" fill="#0000ff"/>
<rect x="205" y="500" width="1" height="26" fill="#0000ff"/>
<rect x="212" y="502" width="1" height="24" fill="#0000ff"/>
<rect x="219" y="492" width="1" height="34" fill="#0000ff"/>
<rect x="225" y="495" width="1" height="31" fill="#0000ff"/>
<rect x="233" y="486" width="1" height="40" fill="#0000ff"/>
<rect x="239" y="472" width="1" height="54" fill="#0000ff"/>
<rect x="247" y="466" width="1" height="60" fill="#0000ff"/>
<rect x="253" y="463" width="1" height="63" fill="#0000ff"/>
<rect x="261" y="486" width="1" height="40" fill="#0000ff"/>
<rect x="267" y="472" width="1" height="54" fill="#0000ff"/>
<rect x="274" y="466" width="1" height="60" fill="#0000ff"/>
<rect x="281" y="463" width="1" height="63" fill="#0000ff"/>
<rect x="288" y="472" width="1" height="54" fill="#0000ff"/>
<rect x="295" y="469" width="1" height="57" fill="#0000ff"/>
<rect x="302" y="470" width="1" height="56" fill="#0000ff"/>
<rect x="309" y="464" width="1" height="62" fill="#0000ff"/>
<rect x="315" y="464" width="1" height="62" fill="#0000ff"/>
<rect x="323" y="463" width="1" height="63" fill="#0000ff"/>
<rect x="329" y="461" width="1" height="65" fill="#0000ff"/>
<rect x="336" y="450" width="1" height="76" fill="#0000ff"/>
<rect x="343" y="445" width="1" height="81" fill="#0000ff"/>
<rect x="350" y="445" width="1" height="81" fill="#0000ff"/>
<rect x="357" y="437" width="1" height="89" fill="#0000ff"/>
<rect x="364" y="433" width="1" height="93" fill="#0000ff"/>
<rect x="371" y="437" width="1" height="89" fill="#0000ff"/>
<rect x="378" y="438" width="1" height="88" fill="#0000ff"/>
<rect x="385" y="434" width="1" height="92" fill="#0000ff"/>
<rect x="392" y="436" width="1" height="90" fill="#0000ff"/>
<rect x="399" y="436" width="1" height="90" fill="#0000ff"/>
<rect x="406" y="437" width="1" height="89" fill="#0000ff"/>
<rect x="412" y="437" width="1" height="89" fill="#0000ff"/>
<rect x="420" y="444" width="1" height="82" fill="#0000ff"/>
<rect x="426" y="436" width="1" height="90" fill="#0000ff"/>
<rect x="434" y="433" width="1" height="93" fill="#0000ff"/>
<rect x="440" y="438" width="1" height="88" fill="#0000ff"/>
<rect x="448" y="442" width="1" height="84" fill="#0000ff"/>
<rect x="454" y="433" width="1" height="93" fill="#0000ff"/>
<rect x="461" y="435" width="1" height="91" fill="#0000ff"/>
<rect x="468" y="432" width="1" height="94" fill="#0000ff"/>
<rect x="475" y="436" width="1" height="90" fill="#0000ff"/>
<rect x="482" y="425" width="1" height="101" fill="#0000ff"/>
<rect x="489" y="435" width="1" height="91" fill="#0000ff"/>
<rect x="496" y="426" width="1" height="100" fill="#0000ff"/>
<rect x="503" y="437" width="1" height="89" fill="#0000ff"/>
<rect x="510" y="434" width="1" height="92" fill="#0000ff"/>
<rect x="517" y="435" width="1" height="91" fill="#0000ff"/>
<rect x="524" y="435" width="1" height="91" fill="#0000ff"/>
<rect x="531" y="435" width="1" height="91" fill="#0000ff"/>
<rect x="537" y="433" width="1" height="93" fill="#0000ff"/>
<rect x="545" y="437" width="1" height="89" fill="#0000ff"/>
<rect x="551" y="436" width="1" height="90" fill="#0000ff"/>
<rect x="559" y="435" width="1" height="91" fill="#0000ff"/>
<rect x="565" y="435" width="1" height="91" fill="#0000ff"/>
<rect x="573" y="436" width="1" height="90" fill="#0000ff"/>
<rect x="579" y="435" width="1" height="91" fill="#0000ff"/>
<rect x="586" y="435" width="1" height="91" fill="#0000ff"/>
<rect x="593" y="437" width="1" height="89" fill="#0000ff"/>
<rect x="600" y="435" width="1" height="91" fill="#0000ff"/>
<rect x="607" y="436" width="1" height="90" fill="#0000ff"/>
<rect x="614" y="434" width="1" height="92" fill="#0000ff"/>
<rect x="621" y="437" width="1" height="89" fill="#0000ff"/>
<rect x="628" y="436" width="1" height="90" fill="#0000ff"/>
<polyline points="-0.5,486.5 6.9,479.5 13.3,471.5 21.3,461.2 27.7,454.8 34.2,452.0 40.5,450.8 48.5,449.5 56.5,451.1 64.5,457.2 72.5,463.5 80.5,463.9 88.5,468.5 99.9,473.5 104.5,468.9 109.8,464.9 116.5,456.9 124.5,446.9 132.5,438.2 140.5,431.3 147.2,428.9 156.5,426.5 164.5,425.1 172.6,426.5 180.6,428.5 191.3,428.5 200.5,432.5 209.9,437.9 219.5,447.5 222.9,452.0 228.5,459.7 234.9,468.5 241.3,477.4 247.7,481.4 254.2,483.4 260.6,481.4 268.6,476.6 276.6,473.4 283.0,474.2 289.4,477.7 297.4,482.2 303.8,487.0 311.8,493.4 319.9,496.6 327.9,500.6 332.7,503.8 339.1,507.0 344.5,510.5 350.5,513.0 356.5,514.8 380.5,515.4 386.5,514.2 392.5,512.7 398.5,512.4 404.2,509.4 410.6,504.6 420.2,497.4 428.3,491.5 436.3,483.0 440.5,474.2 448.5,468.5 454.9,467.4 467.7,470.1 475.8,477.4 483.0,484.6 490.2,491.8 496.6,497.4 504.6,502.2 512.6,506.2 520.6,508.6 530.2,511.0 536.7,510.2 544.7,507.0 552.7,502.2 560.5,494.2 565.5,482.5 573.5,470.8 579.5,463.2 586.5,457.5 593.5,454.7 600.5,458.5 607.5,463.2 614.5,467.6 621.5,471.7 628.5,473.6" fill="none" stroke="#000000" stroke-width="1" stroke-linejoin="round" stroke-dasharray="3 3"/>
<polyline points="-0.5,482.5 6.9,471.5 13.3,461.2 19.7,453.2 26.1,449.2 31.8,447.1 35.0,447.5 39.8,450.3 45.4,449.2 51.8,449.2 57.4,451.6 61.4,455.6 66.2,463.6 72.6,468.7 80.6,464.9 87.0,468.4 95.1,475.6 100.7,475.1 107.2,462.2 113.9,448.9 121.9,440.9 128.5,433.5 135.9,427.2 143.2,425.9 151.2,424.8 163.3,424.8 172.6,427.5 177.8,428.8 192.2,428.8 198.6,434.7 206.7,442.7 217.9,452.4 226.9,466.9 233.3,478.2 239.7,483.0 247.7,485.9 254.2,485.9 260.6,480.6 267.8,472.5 275.0,470.6 281.4,472.5 289.4,477.4 295.8,482.2 302.2,487.0 310.2,497.4 316.7,499.3 324.7,503.0 329.5,506.2 336.5,508.1 343.9,514.8 351.1,517.8 357.8,515.4 383.0,515.1 392.5,511.5 400.5,510.0 410.5,502.5 413.5,498.0 420.5,492.5 427.5,486.0 434.5,475.5 440.5,465.3 448.5,462.9 454.9,467.7 468.5,471.8 475.8,482.2 483.0,494.2 490.2,497.4 496.6,502.2 504.6,505.4 511.0,508.6 517.4,510.5 524.6,511.0 531.8,511.8 538.3,505.4 546.3,501.4 552.7,499.0 560.5,486.2 565.5,475.5 573.5,459.5 579.5,455.5 586.5,452.0 593.5,451.8 600.5,459.0 607.5,468.5 614.5,473.5 621.5,477.0 627.5,475.2" fill="none" stroke="#ff0000" stroke-width="1" stroke-linejoin="round" />
<rect x="0" y="526" width="707" height="1" fill="#000000"/>
<rect x="0" y="542" width="707" height="1" fill="#000000"/>
<rect x="1" y="527" width="325" height="15" fill="url(#hg)"/>
<rect x="327" y="527" width="308" height="15" fill="url(#hr)"/>
<rect x="0" y="526" width="1" height="17" fill="#000000"/>
<rect x="326" y="526" width="1" height="17" fill="#000000"/>
<rect x="635" y="526" width="1" height="17" fill="#000000"/>
<text x="145" y="540" font-size="12" fill="#000000" text-anchor="start" textLength="36" lengthAdjust="spacingAndGlyphs" >Bullish</text>
<text x="460" y="540" font-size="12" fill="#000000" text-anchor="start" textLength="43" lengthAdjust="spacingAndGlyphs" >Bearish</text>
<rect x="3" y="543" width="1" height="4" fill="#000000"/>
<rect x="11" y="543" width="1" height="15" fill="#000000"/>
<text x="12" y="557" font-size="10" fill="#000000" text-anchor="start" textLength="13" lengthAdjust="spacingAndGlyphs" >Jul</text>
<rect x="17" y="543" width="1" height="4" fill="#000000"/>
<rect x="24" y="543" width="1" height="4" fill="#000000"/>
<rect x="31" y="543" width="1" height="4" fill="#000000"/>
<rect x="38" y="543" width="1" height="4" fill="#000000"/>
<rect x="45" y="543" width="1" height="15" fill="#000000"/>
<text x="47" y="557" font-size="10" fill="#000000" text-anchor="start" textLength="16" lengthAdjust="spacingAndGlyphs" >Aug</text>
<rect x="52" y="543" width="1" height="4" fill="#000000"/>
<rect x="59" y="543" width="1" height="4" fill="#000000"/>
<rect x="66" y="543" width="1" height="4" fill="#000000"/>
<rect x="73" y="543" width="1" height="15" fill="#000000"/>
<text x="75" y="557" font-size="10" fill="#000000" text-anchor="start" textLength="17" lengthAdjust="spacingAndGlyphs" >Sep</text>
<rect x="80" y="543" width="1" height="4" fill="#000000"/>
<rect x="87" y="543" width="1" height="4" fill="#000000"/>
<rect x="94" y="543" width="1" height="4" fill="#000000"/>
<rect x="100" y="543" width="1" height="15" fill="#000000"/>
<text x="103" y="557" font-size="10" fill="#000000" text-anchor="start" textLength="14" lengthAdjust="spacingAndGlyphs" >Oct</text>
<rect x="108" y="543" width="1" height="4" fill="#000000"/>
<rect x="114" y="543" width="1" height="4" fill="#000000"/>
<rect x="122" y="543" width="1" height="4" fill="#000000"/>
<rect x="128" y="543" width="1" height="4" fill="#000000"/>
<rect x="136" y="543" width="1" height="15" fill="#000000"/>
<text x="138" y="557" font-size="10" fill="#000000" text-anchor="start" textLength="17" lengthAdjust="spacingAndGlyphs" >Nov</text>
<rect x="142" y="543" width="1" height="4" fill="#000000"/>
<rect x="149" y="543" width="1" height="4" fill="#000000"/>
<rect x="156" y="543" width="1" height="4" fill="#000000"/>
<rect x="163" y="543" width="1" height="15" fill="#000000"/>
<text x="166" y="557" font-size="10" fill="#000000" text-anchor="start" textLength="17" lengthAdjust="spacingAndGlyphs" >Dec</text>
<rect x="170" y="543" width="1" height="4" fill="#000000"/>
<rect x="177" y="543" width="1" height="4" fill="#000000"/>
<rect x="184" y="543" width="1" height="4" fill="#000000"/>
<rect x="191" y="543" width="1" height="4" fill="#000000"/>
<rect x="198" y="543" width="1" height="15" fill="#000000"/>
<text x="199" y="557" font-size="10" fill="#000000" text-anchor="start" textLength="23" lengthAdjust="spacingAndGlyphs" >2005</text>
<rect x="205" y="543" width="1" height="4" fill="#000000"/>
<rect x="212" y="543" width="1" height="4" fill="#000000"/>
<rect x="219" y="543" width="1" height="4" fill="#000000"/>
<rect x="225" y="543" width="1" height="15" fill="#000000"/>
<rect x="233" y="543" width="1" height="4" fill="#000000"/>
<rect x="239" y="543" width="1" height="4" fill="#000000"/>
<rect x="247" y="543" width="1" height="4" fill="#000000"/>
<rect x="253" y="543" width="1" height="15" fill="#000000"/>
<text x="256" y="557" font-size="10" fill="#000000" text-anchor="start" textLength="15" lengthAdjust="spacingAndGlyphs" >Mar</text>
<rect x="261" y="543" width="1" height="4" fill="#000000"/>
<rect x="267" y="543" width="1" height="4" fill="#000000"/>
<rect x="274" y="543" width="1" height="4" fill="#000000"/>
<rect x="281" y="543" width="1" height="15" fill="#000000"/>
<text x="284" y="557" font-size="10" fill="#000000" text-anchor="start" textLength="13" lengthAdjust="spacingAndGlyphs" >Apr</text>
<rect x="288" y="543" width="1" height="4" fill="#000000"/>
<rect x="295" y="543" width="1" height="4" fill="#000000"/>
<rect x="302" y="543" width="1" height="4" fill="#000000"/>
<rect x="309" y="543" width="1" height="4" fill="#000000"/>
<rect x="315" y="543" width="1" height="15" fill="#000000"/>
<text x="318" y="557" font-size="10" fill="#000000" text-anchor="start" textLength="17" lengthAdjust="spacingAndGlyphs" >May</text>
<rect x="323" y="543" width="1" height="4" fill="#000000"/>
<rect x="329" y="543" width="1" height="4" fill="#000000"/>
<rect x="336" y="543" width="1" height="4" fill="#000000"/>
<rect x="343" y="543" width="1" height="15" fill="#000000"/>
<text x="345" y="557" font-size="10" fill="#000000" text-anchor="start" textLength="16" lengthAdjust="spacingAndGlyphs" >Jun</text>
<rect x="350" y="543" width="1" height="4" fill="#000000"/>
<rect x="357" y="543" width="1" height="4" fill="#000000"/>
<rect x="364" y="543" width="1" height="4" fill="#000000"/>
<rect x="371" y="543" width="1" height="15" fill="#000000"/>
<text x="372" y="557" font-size="10" fill="#000000" text-anchor="start" textLength="14" lengthAdjust="spacingAndGlyphs" >Jul</text>
<rect x="378" y="543" width="1" height="4" fill="#000000"/>
<rect x="385" y="543" width="1" height="4" fill="#000000"/>
<rect x="392" y="543" width="1" height="4" fill="#000000"/>
<rect x="399" y="543" width="1" height="4" fill="#000000"/>
<rect x="406" y="543" width="1" height="15" fill="#000000"/>
<text x="408" y="557" font-size="10" fill="#000000" text-anchor="start" textLength="16" lengthAdjust="spacingAndGlyphs" >Aug</text>
<rect x="412" y="543" width="1" height="4" fill="#000000"/>
<rect x="420" y="543" width="1" height="4" fill="#000000"/>
<rect x="426" y="543" width="1" height="4" fill="#000000"/>
<rect x="434" y="543" width="1" height="15" fill="#000000"/>
<text x="436" y="557" font-size="10" fill="#000000" text-anchor="start" textLength="17" lengthAdjust="spacingAndGlyphs" >Sep</text>
<rect x="440" y="543" width="1" height="4" fill="#000000"/>
<rect x="448" y="543" width="1" height="4" fill="#000000"/>
<rect x="454" y="543" width="1" height="4" fill="#000000"/>
<rect x="461" y="543" width="1" height="4" fill="#000000"/>
<rect x="468" y="543" width="1" height="15" fill="#000000"/>
<text x="471" y="557" font-size="10" fill="#000000" text-anchor="start" textLength="14" lengthAdjust="spacingAndGlyphs" >Oct</text>
<rect x="475" y="543" width="1" height="4" fill="#000000"/>
<rect x="482" y="543" width="1" height="4" fill="#000000"/>
<rect x="489" y="543" width="1" height="4" fill="#000000"/>
<rect x="496" y="543" width="1" height="15" fill="#000000"/>
<text x="498" y="557" font-size="10" fill="#000000" text-anchor="start" textLength="17" lengthAdjust="spacingAndGlyphs" >Nov</text>
<rect x="503" y="543" width="1" height="4" fill="#000000"/>
<rect x="510" y="543" width="1" height="4" fill="#000000"/>
<rect x="517" y="543" width="1" height="4" fill="#000000"/>
<rect x="524" y="543" width="1" height="15" fill="#000000"/>
<text x="526" y="557" font-size="10" fill="#000000" text-anchor="start" textLength="17" lengthAdjust="spacingAndGlyphs" >Dec</text>
<rect x="531" y="543" width="1" height="4" fill="#000000"/>
<rect x="537" y="543" width="1" height="4" fill="#000000"/>
<rect x="545" y="543" width="1" height="4" fill="#000000"/>
<rect x="551" y="543" width="1" height="4" fill="#000000"/>
<rect x="559" y="543" width="1" height="15" fill="#000000"/>
<text x="560" y="557" font-size="10" fill="#000000" text-anchor="start" textLength="23" lengthAdjust="spacingAndGlyphs" >2006</text>
<rect x="565" y="543" width="1" height="4" fill="#000000"/>
<rect x="573" y="543" width="1" height="4" fill="#000000"/>
<rect x="579" y="543" width="1" height="4" fill="#000000"/>
<rect x="586" y="543" width="1" height="15" fill="#000000"/>
<rect x="593" y="543" width="1" height="4" fill="#000000"/>
<rect x="600" y="543" width="1" height="4" fill="#000000"/>
<rect x="607" y="543" width="1" height="4" fill="#000000"/>
<rect x="614" y="543" width="1" height="15" fill="#000000"/>
<text x="617" y="557" font-size="10" fill="#000000" text-anchor="start" textLength="15" lengthAdjust="spacingAndGlyphs" >Mar</text>
<rect x="621" y="543" width="1" height="4" fill="#000000"/>
<rect x="628" y="543" width="1" height="4" fill="#000000"/>
<rect x="635" y="543" width="1" height="4" fill="#000000"/>
<rect x="642" y="543" width="1" height="4" fill="#000000"/>
<rect x="649" y="543" width="1" height="15" fill="#000000"/>
<text x="651" y="557" font-size="10" fill="#000000" text-anchor="start" textLength="13" lengthAdjust="spacingAndGlyphs" >Apr</text>
<rect x="656" y="543" width="1" height="4" fill="#000000"/>
<rect x="662" y="543" width="1" height="4" fill="#000000"/>
<rect x="669" y="543" width="1" height="4" fill="#000000"/>
<rect x="676" y="543" width="1" height="15" fill="#000000"/>
<text x="679" y="557" font-size="10" fill="#000000" text-anchor="start" textLength="17" lengthAdjust="spacingAndGlyphs" >May</text>
<rect x="683" y="543" width="1" height="4" fill="#000000"/>
<rect x="690" y="543" width="1" height="4" fill="#000000"/>
<rect x="697" y="543" width="1" height="4" fill="#000000"/>
<rect x="704" y="543" width="1" height="15" fill="#000000"/>
<rect x="706" y="555" width="1" height="2" fill="#000000"/>
<rect x="709" y="515" width="1" height="11" fill="#000000"/>
<rect x="709" y="516" width="20" height="1" fill="#000000"/>
<rect x="728" y="516" width="1" height="10" fill="#000000"/>
<rect x="711" y="518" width="8" height="5" fill="#000000"/>
<rect x="712" y="519" width="2" height="3" fill="#fff"/>
<rect x="716" y="519" width="2" height="3" fill="#fff"/>
<rect x="725" y="548" width="1" height="1" fill="#ff0000"/>
<rect x="726" y="548" width="1" height="1" fill="#ff0000"/>
<rect x="727" y="548" width="1" height="1" fill="#ff0000"/>
<rect x="728" y="548" width="1" height="1" fill="#ff0000"/>
<rect x="724" y="549" width="1" height="1" fill="#ff0000"/>
<rect x="729" y="549" width="1" height="1" fill="#ff0000"/>
<rect x="723" y="550" width="1" height="1" fill="#ff0000"/>
<rect x="730" y="550" width="1" height="1" fill="#ff0000"/>
<rect x="723" y="551" width="1" height="1" fill="#ff0000"/>
<rect x="730" y="551" width="1" height="1" fill="#ff0000"/>
<rect x="723" y="552" width="1" height="1" fill="#ff0000"/>
<rect x="730" y="552" width="1" height="1" fill="#ff0000"/>
<rect x="723" y="553" width="1" height="1" fill="#ff0000"/>
<rect x="730" y="553" width="1" height="1" fill="#ff0000"/>
<rect x="724" y="554" width="1" height="1" fill="#ff0000"/>
<rect x="729" y="554" width="1" height="1" fill="#ff0000"/>
<rect x="725" y="555" width="1" height="1" fill="#ff0000"/>
<rect x="726" y="555" width="1" height="1" fill="#ff0000"/>
<rect x="727" y="555" width="1" height="1" fill="#ff0000"/>
<rect x="728" y="555" width="1" height="1" fill="#ff0000"/>
<rect x="725" y="550" width="1" height="1" fill="#ff0000"/>
<rect x="728" y="550" width="1" height="1" fill="#ff0000"/>
<rect x="726" y="551" width="1" height="1" fill="#ff0000"/>
<rect x="727" y="551" width="1" height="1" fill="#ff0000"/>
<rect x="725" y="552" width="1" height="1" fill="#ff0000"/>
<rect x="728" y="552" width="1" height="1" fill="#ff0000"/>
<rect x="728" y="553" width="1" height="1" fill="#ff0000"/>
<rect x="724" y="553" width="1" height="1" fill="#ff0000"/></svg></body></html>
